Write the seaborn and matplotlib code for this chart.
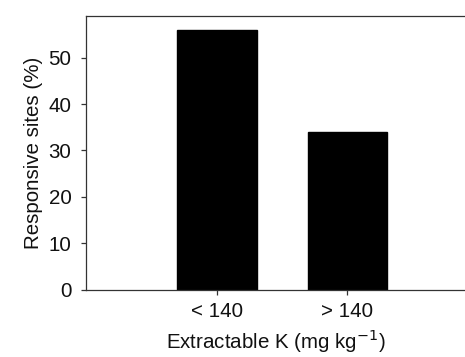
import matplotlib
matplotlib.use("Agg")
import matplotlib.pyplot as plt
import seaborn as sns
import pandas as pd

# values
categories = ["< 140", "> 140"]
responsive = [56, 34]
y_ticks = [0, 10, 20, 30, 40, 50]

df = pd.DataFrame({"group": categories, "pct": responsive})

sns.set_style("ticks")
plt.rcParams["font.family"] = ["Liberation Sans", "DejaVu Sans"]
plt.rcParams["text.color"] = "#111111"
plt.rcParams["xtick.color"] = "#333333"
plt.rcParams["ytick.color"] = "#333333"
plt.rcParams["xtick.labelcolor"] = "#111111"
plt.rcParams["ytick.labelcolor"] = "#111111"
plt.rcParams["axes.labelcolor"] = "#111111"

fig = plt.figure(figsize=(4.65, 3.57), dpi=100)
ax = fig.add_axes([0.185, 0.188, 0.815, 0.768])

sns.barplot(data=df, x="group", y="pct", color="black", width=0.61,
            edgecolor="black", saturation=1, ax=ax)

ax.set_xlim(-1, 1.9)
ax.set_ylim(0, 59)
ax.set_yticks(y_ticks)

fs = 14.8
ax.set_xlabel("Extractable K (mg kg$^{-1}$)", fontsize=fs, labelpad=4.5)
ax.set_ylabel("Responsive sites (%)", fontsize=fs, labelpad=4)
ax.tick_params(axis="both", labelsize=fs, length=3.5, width=0.9,
               direction="out")
ax.tick_params(axis="y", pad=7)
ax.tick_params(axis="x", pad=5.5)

for side in ["left", "bottom", "top"]:
    ax.spines[side].set_color("#333333")
    ax.spines[side].set_linewidth(0.9)
ax.spines["right"].set_visible(False)

fig.savefig("out.png", dpi=100)
